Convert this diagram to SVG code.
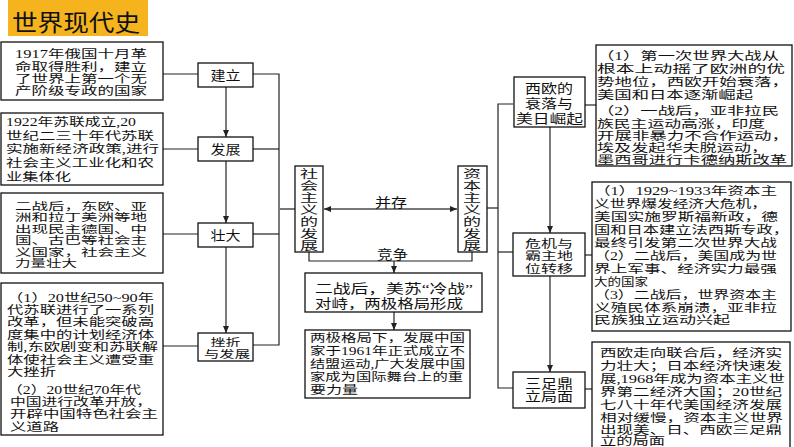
<svg xmlns="http://www.w3.org/2000/svg" width="794" height="447" viewBox="0 0 794 447">
<style>
  text{font-family:"Liberation Serif","Noto Sans CJK SC",serif;font-size:11.5px;fill:#111;}
  .s{font-size:10.5px;}
  .box{fill:#fff;stroke:#111;stroke-width:1.3;}
  .ln{fill:none;stroke:#222;stroke-width:1.2;}
  .gl{fill:none;stroke:#777;stroke-width:2;}
  .t14{font-size:13px;}
  .v{font-size:11.5px;}
  .title{font-size:23px;fill:#111;}
</style>
<defs>
  <marker id="arr" markerUnits="userSpaceOnUse" markerWidth="7" markerHeight="6" refX="7" refY="3" orient="auto-start-reverse">
    <path d="M0,0 L7,3 L0,6 z" fill="#222"/>
  </marker>
</defs>
<rect width="794" height="447" fill="#fff"/>

<g id="title">
  <rect x="8" y="0" width="140" height="36" fill="#F5B41E"/>
  <text class="title" x="12" y="30.5" textLength="128" lengthAdjust="spacingAndGlyphs">世界现代史</text>
</g>

<g id="connectors">
  <line class="ln" x1="163" y1="74" x2="198" y2="74"/>
  <line class="ln" x1="163" y1="149" x2="198" y2="149"/>
  <line class="ln" x1="163" y1="234" x2="198" y2="234"/>
  <line class="ln" x1="163" y1="346" x2="198" y2="346"/>
  <line class="ln" x1="226" y1="87" x2="226" y2="137" marker-end="url(#arr)"/>
  <line class="ln" x1="226" y1="161" x2="226" y2="223" marker-end="url(#arr)"/>
  <line class="ln" x1="226" y1="247" x2="226" y2="333" marker-end="url(#arr)"/>
  <polyline class="ln" points="253,74 279,74 279,345 253,345"/>
  <line class="ln" x1="253" y1="149" x2="279" y2="149"/>
  <line class="ln" x1="253" y1="234" x2="279" y2="234"/>
  <line class="gl" x1="279" y1="209" x2="295" y2="209"/>
  <line class="gl" x1="324" y1="209" x2="457" y2="209" marker-start="url(#arr)" marker-end="url(#arr)"/>
  <line class="gl" x1="487" y1="208" x2="498" y2="208"/>
  <polyline class="ln" points="513,104 498,104 498,388 513,388"/>
  <line class="ln" x1="498" y1="252" x2="513" y2="252"/>
  <line class="ln" x1="585" y1="105" x2="596" y2="105"/>
  <line class="ln" x1="585" y1="255" x2="592" y2="255"/>
  <line class="ln" x1="585" y1="389" x2="592" y2="389"/>
  <line class="ln" x1="550" y1="127" x2="550" y2="233" marker-end="url(#arr)"/>
  <line class="ln" x1="550" y1="276" x2="550" y2="372" marker-end="url(#arr)"/>
  <polyline class="ln" points="309,252 309,261 472,261 472,252"/>
  <line class="ln" x1="394" y1="261" x2="394" y2="273" marker-end="url(#arr)"/>
  <line class="ln" x1="394" y1="312" x2="394" y2="330" marker-end="url(#arr)"/>
  <text class="t14" x="375" y="207" textLength="32" lengthAdjust="spacingAndGlyphs">并存</text>
  <text class="t14" x="377" y="259" textLength="31" lengthAdjust="spacingAndGlyphs">竞争</text>
</g>

<g id="note-1917">
  <rect class="box" x="1" y="42" width="162" height="58"/>
  <text x="15" y="58" textLength="132" lengthAdjust="spacingAndGlyphs">1917年俄国十月革</text>
  <text x="15" y="70.5" textLength="132" lengthAdjust="spacingAndGlyphs">命取得胜利，建立</text>
  <text x="15" y="83" textLength="132" lengthAdjust="spacingAndGlyphs">了世界上第一个无</text>
  <text x="15" y="95" textLength="132" lengthAdjust="spacingAndGlyphs">产阶级专政的国家</text>
</g>

<g id="note-1922">
  <rect class="box" x="1" y="113" width="162" height="72"/>
  <text x="6" y="125.5" textLength="130" lengthAdjust="spacingAndGlyphs">1922年苏联成立,20</text>
  <text x="6" y="139.5" textLength="148" lengthAdjust="spacingAndGlyphs">世纪二三十年代苏联</text>
  <text x="6" y="153" textLength="153" lengthAdjust="spacingAndGlyphs">实施新经济政策,进行</text>
  <text x="6" y="167" textLength="148" lengthAdjust="spacingAndGlyphs">社会主义工业化和农</text>
  <text x="6" y="180.5" textLength="65" lengthAdjust="spacingAndGlyphs">业集体化</text>
</g>

<g id="note-postwar">
  <rect class="box" x="1" y="193" width="162" height="80"/>
  <text class="s" x="15" y="209.5" textLength="132" lengthAdjust="spacingAndGlyphs">二战后，东欧、亚</text>
  <text class="s" x="15" y="221" textLength="132" lengthAdjust="spacingAndGlyphs">洲和拉丁美洲等地</text>
  <text class="s" x="15" y="232.5" textLength="132" lengthAdjust="spacingAndGlyphs">出现民主德国、中</text>
  <text class="s" x="15" y="244" textLength="132" lengthAdjust="spacingAndGlyphs">国、古巴等社会主</text>
  <text class="s" x="15" y="255.5" textLength="132" lengthAdjust="spacingAndGlyphs">义国家，社会主义</text>
  <text class="s" x="15" y="267" textLength="62" lengthAdjust="spacingAndGlyphs">力量壮大</text>
</g>

<g id="note-reform">
  <rect class="box" x="1" y="283" width="162" height="152"/>
  <text x="7" y="301.5" textLength="147" lengthAdjust="spacingAndGlyphs">（1）20世纪50~90年</text>
  <text x="7" y="313.5" textLength="147" lengthAdjust="spacingAndGlyphs">代苏联进行了一系列</text>
  <text x="7" y="326" textLength="147" lengthAdjust="spacingAndGlyphs">改革，但未能突破高</text>
  <text x="7" y="338.5" textLength="147" lengthAdjust="spacingAndGlyphs">度集中的计划经济体</text>
  <text x="7" y="351" textLength="151" lengthAdjust="spacingAndGlyphs">制,东欧剧变和苏联解</text>
  <text x="7" y="363.5" textLength="147" lengthAdjust="spacingAndGlyphs">体使社会主义遭受重</text>
  <text x="7" y="375.5" textLength="49" lengthAdjust="spacingAndGlyphs">大挫折</text>
  <text x="7" y="393.5" textLength="134" lengthAdjust="spacingAndGlyphs">（2）20世纪70年代</text>
  <text x="10" y="406" textLength="142" lengthAdjust="spacingAndGlyphs">中国进行改革开放，</text>
  <text x="10" y="418" textLength="148" lengthAdjust="spacingAndGlyphs">开辟中国特色社会主</text>
  <text x="10" y="430.5" textLength="49" lengthAdjust="spacingAndGlyphs">义道路</text>
</g>

<g id="jianli">
  <rect class="box" x="198" y="63" width="55" height="24"/>
  <text class="t14" x="210.5" y="80" textLength="30" lengthAdjust="spacingAndGlyphs">建立</text>
</g>
<g id="fazhan">
  <rect class="box" x="198" y="137" width="55" height="24"/>
  <text class="t14" x="210.5" y="154" textLength="30" lengthAdjust="spacingAndGlyphs">发展</text>
</g>
<g id="zhuangda">
  <rect class="box" x="198" y="223" width="55" height="24"/>
  <text class="t14" x="210.5" y="240" textLength="30" lengthAdjust="spacingAndGlyphs">壮大</text>
</g>
<g id="cuozhe">
  <rect class="box" x="198" y="333" width="55" height="28"/>
  <text class="s" x="210.5" y="345.5" textLength="30" lengthAdjust="spacingAndGlyphs">挫折</text>
  <text class="s" x="204" y="357.5" textLength="46" lengthAdjust="spacingAndGlyphs">与发展</text>
</g>

<g id="socialism">
  <rect class="box" x="295" y="166" width="28" height="86"/>
  <text class="v" x="300" y="177.5" textLength="18" lengthAdjust="spacingAndGlyphs">社</text>
  <text class="v" x="300" y="189.5" textLength="18" lengthAdjust="spacingAndGlyphs">会</text>
  <text class="v" x="300" y="201.5" textLength="18" lengthAdjust="spacingAndGlyphs">主</text>
  <text class="v" x="300" y="213.5" textLength="18" lengthAdjust="spacingAndGlyphs">义</text>
  <text class="v" x="300" y="225.5" textLength="18" lengthAdjust="spacingAndGlyphs">的</text>
  <text class="v" x="300" y="237.5" textLength="18" lengthAdjust="spacingAndGlyphs">发</text>
  <text class="v" x="300" y="249.5" textLength="18" lengthAdjust="spacingAndGlyphs">展</text>
</g>

<g id="capitalism">
  <rect class="box" x="458" y="166" width="29" height="86"/>
  <text class="v" x="463" y="177.5" textLength="18" lengthAdjust="spacingAndGlyphs">资</text>
  <text class="v" x="463" y="189.5" textLength="18" lengthAdjust="spacingAndGlyphs">本</text>
  <text class="v" x="463" y="201.5" textLength="18" lengthAdjust="spacingAndGlyphs">主</text>
  <text class="v" x="463" y="213.5" textLength="18" lengthAdjust="spacingAndGlyphs">义</text>
  <text class="v" x="463" y="225.5" textLength="18" lengthAdjust="spacingAndGlyphs">的</text>
  <text class="v" x="463" y="237.5" textLength="18" lengthAdjust="spacingAndGlyphs">发</text>
  <text class="v" x="463" y="249.5" textLength="18" lengthAdjust="spacingAndGlyphs">展</text>
</g>

<g id="coldwar">
  <rect class="box" x="305" y="273" width="177" height="39"/>
  <text class="t14" x="315" y="292.5" textLength="158" lengthAdjust="spacingAndGlyphs">二战后，美苏“冷战”</text>
  <text class="t14" x="315" y="307.5" textLength="148" lengthAdjust="spacingAndGlyphs">对峙，两极格局形成</text>
</g>

<g id="nonaligned">
  <rect class="box" x="305" y="330" width="165" height="68"/>
  <text x="310" y="341.5" textLength="155" lengthAdjust="spacingAndGlyphs">两极格局下，发展中国</text>
  <text x="310" y="355" textLength="155" lengthAdjust="spacingAndGlyphs">家于1961年正式成立不</text>
  <text x="310" y="368" textLength="155" lengthAdjust="spacingAndGlyphs">结盟运动,广大发展中国</text>
  <text x="310" y="381" textLength="153" lengthAdjust="spacingAndGlyphs">家成为国际舞台上的重</text>
  <text x="310" y="394" textLength="48" lengthAdjust="spacingAndGlyphs">要力量</text>
</g>

<g id="xiou">
  <rect class="box" x="514" y="77" width="71" height="50"/>
  <text class="t14" x="525" y="92.5" textLength="48" lengthAdjust="spacingAndGlyphs">西欧的</text>
  <text class="t14" x="525" y="107.5" textLength="48" lengthAdjust="spacingAndGlyphs">衰落与</text>
  <text class="t14" x="516" y="123" textLength="67" lengthAdjust="spacingAndGlyphs">美日崛起</text>
</g>

<g id="weiji">
  <rect class="box" x="513" y="233" width="72" height="43"/>
  <text x="525" y="247.5" textLength="48" lengthAdjust="spacingAndGlyphs">危机与</text>
  <text x="525" y="260" textLength="48" lengthAdjust="spacingAndGlyphs">霸主地</text>
  <text x="525" y="272.5" textLength="48" lengthAdjust="spacingAndGlyphs">位转移</text>
</g>

<g id="sanzu">
  <rect class="box" x="513" y="372" width="72" height="36"/>
  <text class="t14" x="525" y="387.5" textLength="48" lengthAdjust="spacingAndGlyphs">三足鼎</text>
  <text class="t14" x="525" y="401" textLength="48" lengthAdjust="spacingAndGlyphs">立局面</text>
</g>

<g id="note-ww1">
  <rect class="box" x="596" y="45" width="196" height="121"/>
  <text x="597" y="60" textLength="182" lengthAdjust="spacingAndGlyphs">（1）第一次世界大战从</text>
  <text x="597" y="73" textLength="188" lengthAdjust="spacingAndGlyphs">根本上动摇了欧洲的优</text>
  <text x="597" y="86" textLength="192" lengthAdjust="spacingAndGlyphs">势地位，西欧开始衰落，</text>
  <text x="597" y="99" textLength="156" lengthAdjust="spacingAndGlyphs">美国和日本逐渐崛起</text>
  <text x="597" y="115" textLength="182" lengthAdjust="spacingAndGlyphs">（2）一战后，亚非拉民</text>
  <text x="597" y="127.5" textLength="168" lengthAdjust="spacingAndGlyphs">族民主运动高涨，印度</text>
  <text x="597" y="140" textLength="192" lengthAdjust="spacingAndGlyphs">开展非暴力不合作运动，</text>
  <text x="597" y="152" textLength="171" lengthAdjust="spacingAndGlyphs">埃及发起华夫脱运动，</text>
  <text x="597" y="163.5" textLength="190" lengthAdjust="spacingAndGlyphs">墨西哥进行卡德纳斯改革</text>
</g>

<g id="note-crisis">
  <rect class="box" x="592" y="182" width="199" height="149"/>
  <text x="594" y="194.5" textLength="183" lengthAdjust="spacingAndGlyphs">（1）1929~1933年资本主</text>
  <text x="594" y="207.5" textLength="173" lengthAdjust="spacingAndGlyphs">义世界爆发经济大危机，</text>
  <text x="594" y="221" textLength="184" lengthAdjust="spacingAndGlyphs">美国实施罗斯福新政，德</text>
  <text x="594" y="234" textLength="195" lengthAdjust="spacingAndGlyphs">国和日本建立法西斯专政，</text>
  <text x="594" y="246.5" textLength="183" lengthAdjust="spacingAndGlyphs">最终引发第二次世界大战</text>
  <text x="594" y="259.5" textLength="183" lengthAdjust="spacingAndGlyphs">（2）二战后，美国成为世</text>
  <text x="594" y="272.5" textLength="183" lengthAdjust="spacingAndGlyphs">界上军事、经济实力最强</text>
  <text x="594" y="285.5" textLength="54" lengthAdjust="spacingAndGlyphs">大的国家</text>
  <text x="594" y="298.5" textLength="183" lengthAdjust="spacingAndGlyphs">（3）二战后，世界资本主</text>
  <text x="594" y="311.5" textLength="183" lengthAdjust="spacingAndGlyphs">义殖民体系崩溃，亚非拉</text>
  <text x="594" y="324" textLength="136" lengthAdjust="spacingAndGlyphs">民族独立运动兴起</text>
</g>

<g id="note-tripolar">
  <rect class="box" x="592" y="342" width="198" height="110"/>
  <text x="600" y="356.5" textLength="182" lengthAdjust="spacingAndGlyphs">西欧走向联合后，经济实</text>
  <text x="600" y="369.5" textLength="182" lengthAdjust="spacingAndGlyphs">力壮大；日本经济快速发</text>
  <text x="600" y="382.5" textLength="185" lengthAdjust="spacingAndGlyphs">展,1968年成为资本主义世</text>
  <text x="600" y="395.5" textLength="182" lengthAdjust="spacingAndGlyphs">界第二经济大国；20世纪</text>
  <text x="600" y="408.5" textLength="182" lengthAdjust="spacingAndGlyphs">七八十年代美国经济发展</text>
  <text x="600" y="421.5" textLength="183" lengthAdjust="spacingAndGlyphs">相对缓慢，资本主义世界</text>
  <text x="600" y="434" textLength="182" lengthAdjust="spacingAndGlyphs">出现美、日、西欧三足鼎</text>
  <text x="600" y="445" textLength="65" lengthAdjust="spacingAndGlyphs">立的局面</text>
</g>
</svg>
